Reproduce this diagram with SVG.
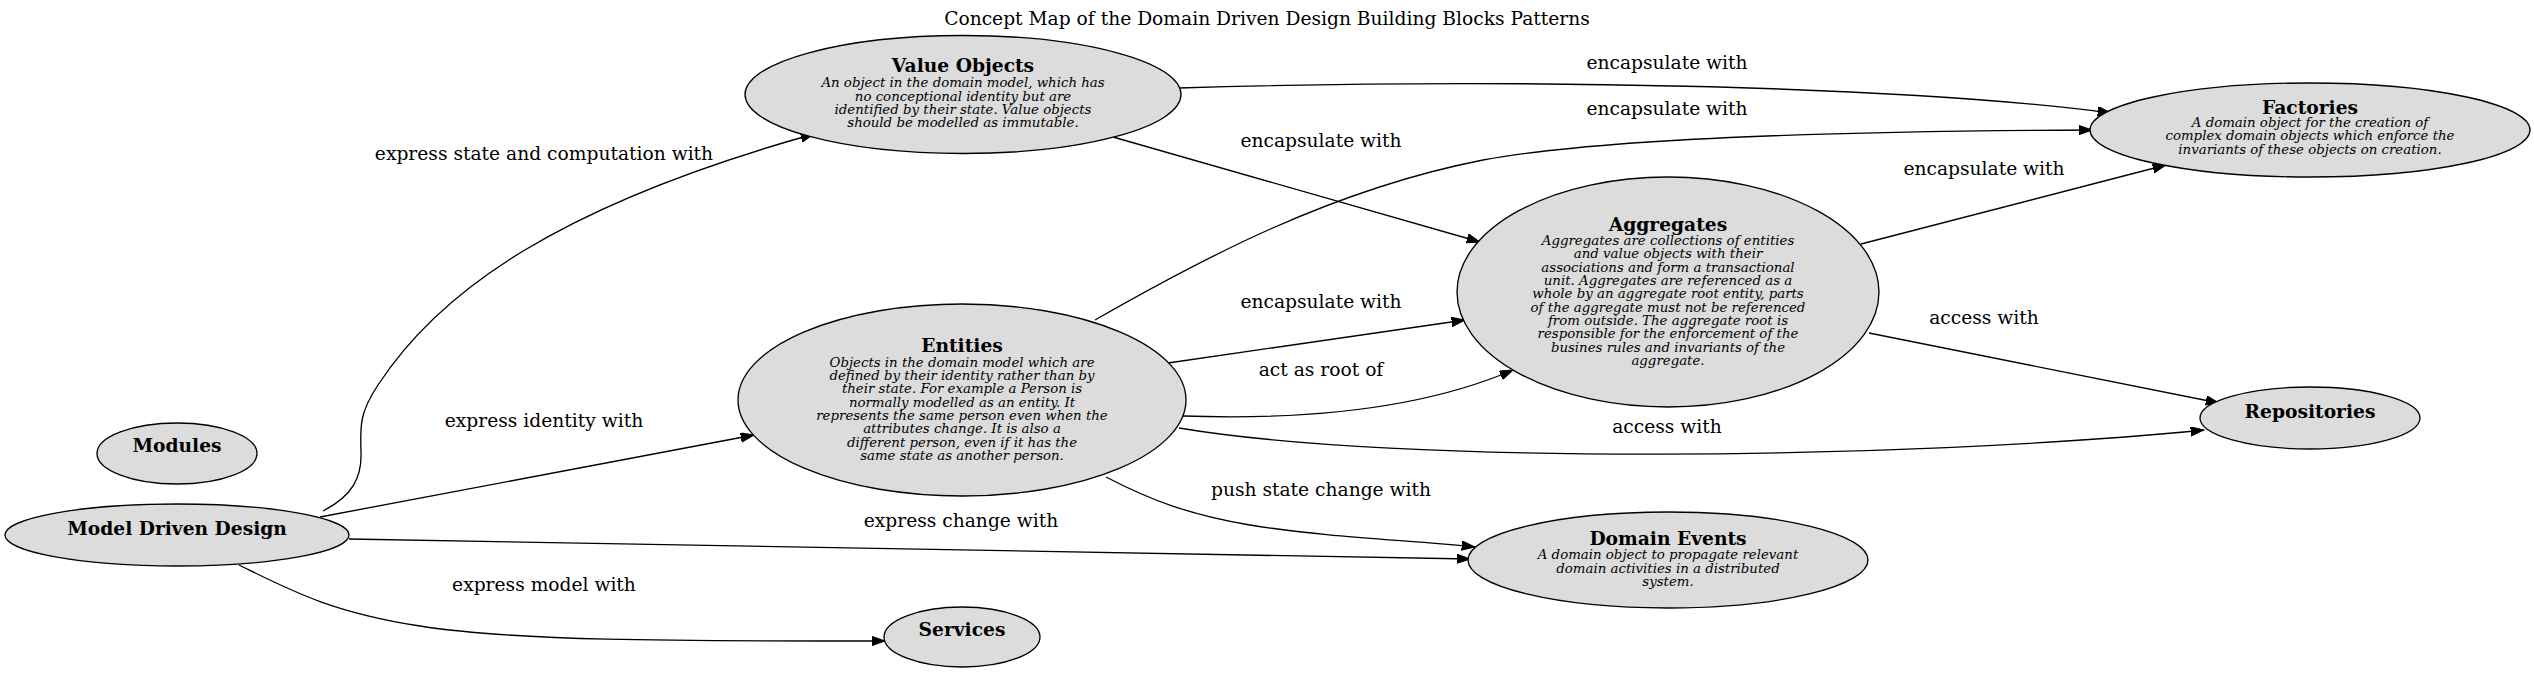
<svg xmlns="http://www.w3.org/2000/svg" width="2534" height="674" viewBox="0 0 2534 674">
<style>
.bg{fill:#ffffff}
.node ellipse{fill:#dcdcdc;stroke:#000;stroke-width:1.33}
.t{font-family:"DejaVu Serif",serif;font-weight:bold;font-size:18.67px;text-anchor:middle;fill:#000}
.d{font-family:"DejaVu Serif",serif;font-style:italic;font-size:13.33px;text-anchor:middle;fill:#000}
.e path{fill:none;stroke:#000;stroke-width:1.33;marker-end:url(#ah)}
.l{font-family:"DejaVu Serif",serif;font-size:18.67px;text-anchor:middle;fill:#000}
</style>
<defs>
<marker id="ah" markerUnits="userSpaceOnUse" markerWidth="14" markerHeight="10" refX="13.3" refY="4.7" orient="auto">
<path d="M0,0 L13.3,4.7 L0,9.4 z" fill="#000" stroke="#000" stroke-width="1"/>
</marker>
</defs>
<rect class="bg" x="0" y="0" width="2534" height="674"/>
<text class="l" x="1267" y="25">Concept Map of the Domain Driven Design Building Blocks Patterns</text>

<g id="connectors" class="e">
<path d="M323,511 C352,496 362,478 361,452 C360,425 360,412 378,385 C440,290 560,205 814,134"/>
<path d="M320,517 L754,435"/>
<path d="M349,539 L1470,559"/>
<path d="M239,565 C290,590 330,612 420,626 C520,642 700,641 885,641"/>
<path d="M1179,88 C1500,78 1900,85 2111,113"/>
<path d="M1095,320 C1200,260 1330,190 1483,160 C1620,135 1900,131 2092,130"/>
<path d="M1113,137 L1480,242"/>
<path d="M1861,244 L2166,165"/>
<path d="M1168,363 L1465,320"/>
<path d="M1183,416 C1300,420 1420,410 1513,370"/>
<path d="M1869,333 L2219,403"/>
<path d="M1179,428 C1400,465 1900,460 2204,430"/>
<path d="M1106,477 C1150,500 1190,515 1250,525 C1330,538 1410,540 1475,547"/>
</g>

<g id="edge-labels">
<text class="l" x="544" y="160">express state and computation with</text>
<text class="l" x="544" y="427">express identity with</text>
<text class="l" x="961" y="527">express change with</text>
<text class="l" x="544" y="591">express model with</text>
<text class="l" x="1667" y="69">encapsulate with</text>
<text class="l" x="1667" y="115">encapsulate with</text>
<text class="l" x="1321" y="147">encapsulate with</text>
<text class="l" x="1984" y="175">encapsulate with</text>
<text class="l" x="1321" y="308">encapsulate with</text>
<text class="l" x="1321" y="376">act as root of</text>
<text class="l" x="1984" y="324">access with</text>
<text class="l" x="1667" y="433">access with</text>
<text class="l" x="1321" y="496">push state change with</text>
</g>

<g id="value-objects" class="node">
<ellipse cx="963" cy="94.5" rx="218" ry="59"/>
<text class="t" x="963" y="72">Value Objects</text>
<text class="d" x="963" y="87.3">An object in the domain model, which has</text>
<text class="d" x="963" y="100.6">no conceptional identity but are</text>
<text class="d" x="963" y="114">identified by their state. Value objects</text>
<text class="d" x="963" y="127.3">should be modelled as immutable.</text>
</g>

<g id="aggregates" class="node">
<ellipse cx="1668" cy="292" rx="211" ry="115"/>
<text class="t" x="1668" y="231">Aggregates</text>
<text class="d" x="1668" y="245">Aggregates are collections of entities</text>
<text class="d" x="1668" y="258.3">and value objects with their</text>
<text class="d" x="1668" y="271.7">associations and form a transactional</text>
<text class="d" x="1668" y="285">unit. Aggregates are referenced as a</text>
<text class="d" x="1668" y="298.3">whole by an aggregate root entity, parts</text>
<text class="d" x="1668" y="311.7">of the aggregate must not be referenced</text>
<text class="d" x="1668" y="325">from outside. The aggregate root is</text>
<text class="d" x="1668" y="338.3">responsible for the enforcement of the</text>
<text class="d" x="1668" y="351.7">busines rules and invariants of the</text>
<text class="d" x="1668" y="365">aggregate.</text>
</g>

<g id="entities" class="node">
<ellipse cx="962" cy="400" rx="224" ry="96"/>
<text class="t" x="962" y="352">Entities</text>
<text class="d" x="962" y="366.7">Objects in the domain model which are</text>
<text class="d" x="962" y="380">defined by their identity rather than by</text>
<text class="d" x="962" y="393.3">their state. For example a Person is</text>
<text class="d" x="962" y="406.7">normally modelled as an entity. It</text>
<text class="d" x="962" y="420">represents the same person even when the</text>
<text class="d" x="962" y="433.3">attributes change. It is also a</text>
<text class="d" x="962" y="446.7">different person, even if it has the</text>
<text class="d" x="962" y="460">same state as another person.</text>
</g>

<g id="factories" class="node">
<ellipse cx="2310" cy="130" rx="220" ry="47"/>
<text class="t" x="2310" y="114">Factories</text>
<text class="d" x="2310" y="127">A domain object for the creation of</text>
<text class="d" x="2310" y="140.3">complex domain objects which enforce the</text>
<text class="d" x="2310" y="153.7">invariants of these objects on creation.</text>
</g>

<g id="domain-events" class="node">
<ellipse cx="1668" cy="560" rx="200" ry="48"/>
<text class="t" x="1668" y="545">Domain Events</text>
<text class="d" x="1668" y="559.3">A domain object to propagate relevant</text>
<text class="d" x="1668" y="572.7">domain activities in a distributed</text>
<text class="d" x="1668" y="586">system.</text>
</g>

<g id="repositories" class="node">
<ellipse cx="2310" cy="418" rx="110" ry="31"/>
<text class="t" x="2310" y="418">Repositories</text>
</g>

<g id="modules" class="node">
<ellipse cx="177" cy="453.5" rx="80" ry="30.5"/>
<text class="t" x="177" y="452">Modules</text>
</g>

<g id="model-driven-design" class="node">
<ellipse cx="177" cy="535" rx="172" ry="31"/>
<text class="t" x="177" y="535">Model Driven Design</text>
</g>

<g id="services" class="node">
<ellipse cx="962" cy="637" rx="78" ry="30"/>
<text class="t" x="962" y="636">Services</text>
</g>
</svg>
